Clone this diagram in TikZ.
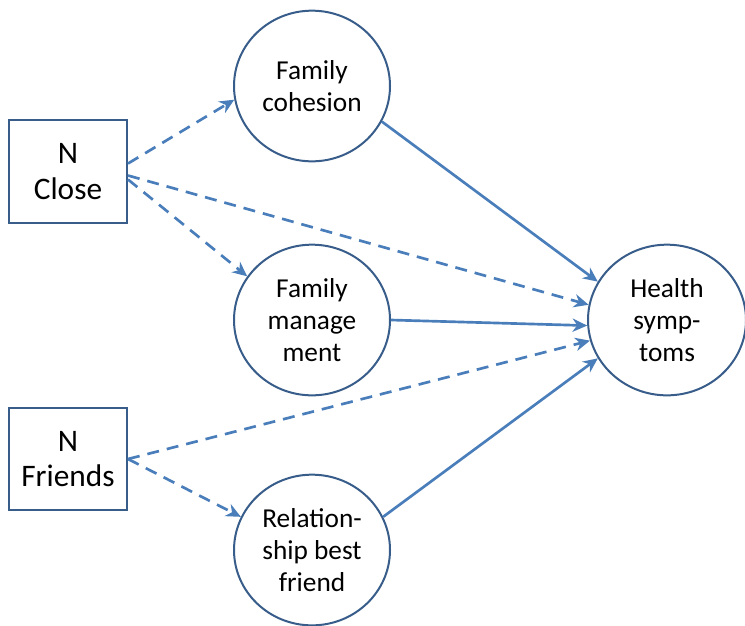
\documentclass[tikz,border=0pt]{standalone}
\usepackage{fontspec}
\setmainfont{Carlito}
\usetikzlibrary{shapes.geometric,arrows.meta}
\definecolor{bord}{RGB}{56,93,138}
\definecolor{arr}{RGB}{74,126,187}
\tikzset{
  boxnode/.style={draw=bord,line width=1.5pt,minimum width=88.5pt,minimum height=77pt,inner sep=0pt,align=center,font=\fontsize{23.5}{26.5}\selectfont},
  ellnode/.style={ellipse,draw=bord,line width=1.5pt,minimum width=117pt,minimum height=113pt,inner sep=0pt,align=center,font=\fontsize{20.5}{24}\selectfont},
  dasharrow/.style={draw=arr,line width=2pt,dash pattern=on 9pt off 6pt,-{Stealth[length=11pt,width=10pt,inset=3.5pt]}},
  solidarrow/.style={draw=arr,line width=2pt,-{Stealth[length=11pt,width=10pt,inset=3.5pt]}}
}
\begin{document}
\begin{tikzpicture}[x=0.75pt,y=-0.75pt]
\useasboundingbox (0,0) rectangle (745,625);
\node[boxnode] (nc) at (68,171.5) {N\\Close};
\node[boxnode] (nf) at (68,459) {N\\Friends};
\node[ellnode] (fc) at (312,86) {Family\\cohesion};
\node[ellnode] (fm) at (312,320) {Family\\manage\\ment};
\node[ellnode] (rb) at (312,550) {Relation-\\ship best\\friend};
\node[ellnode,minimum width=118.5pt] (hs) at (667,320) {Health\\symp-\\toms};
\draw[dasharrow] ([yshift=6pt]nc.east) -- (fc.190);
\draw[dasharrow] ([yshift=-3pt]nc.east) -- (hs.169);
\draw[dasharrow] ([yshift=-6pt]nc.east) -- (fm.146);
\draw[dasharrow] (nf.east) -- (hs.195);
\draw[dasharrow] (nf.east) -- (rb.155);
\draw[solidarrow] (fc.333) -- (hs.151);
\draw[solidarrow] (fm.east) -- (hs.184);
\draw[solidarrow] (rb.25) -- (hs.209);
\end{tikzpicture}
\end{document}
